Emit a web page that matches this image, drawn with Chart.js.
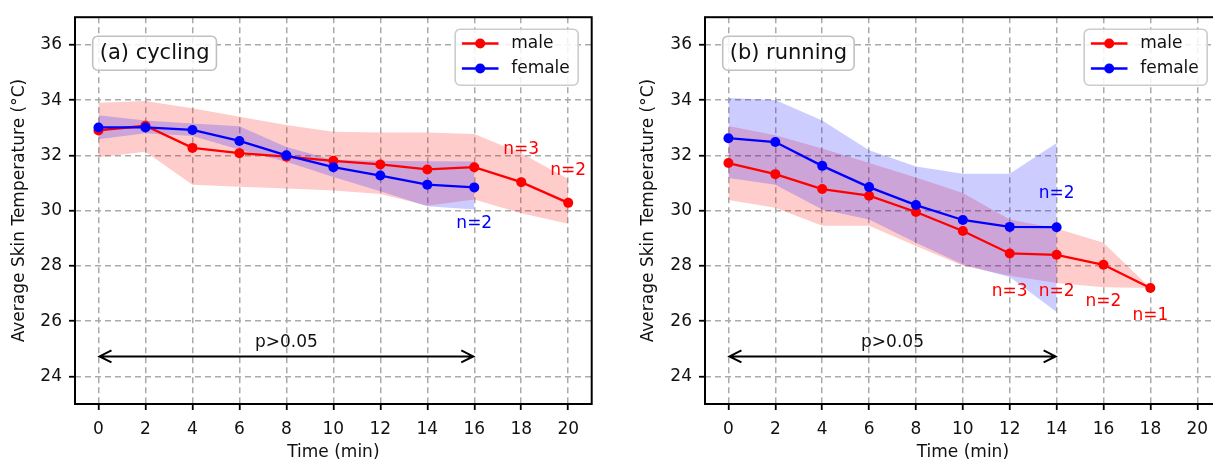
<!DOCTYPE html>
<html>
<head>
<meta charset="utf-8">
<script src="https://cdn.jsdelivr.net/npm/chart.js@4.4.1/dist/chart.umd.min.js"></script>
<style>
  html, body { margin: 0; padding: 0; background: #fff; overflow: hidden; width: 1213px; height: 461px; }
  .panel { position: absolute; top: 0; }
  #left { left: 0; }
  #right { left: 620px; }
</style>
</head>
<body>
<div class="panel" id="left"><canvas id="cycChart" width="610" height="461"></canvas></div>
<div class="panel" id="right"><canvas id="runChart" width="620" height="461"></canvas></div>
<script>
// Axis ticks
const xTicks = [0, 2, 4, 6, 8, 10, 12, 14, 16, 18, 20];
const yTicks = [24, 26, 28, 30, 32, 34, 36];
const legendLabels = ['male', 'female'];

// (a) cycling
const cycTimeMale = [0, 2, 4, 6, 8, 10, 12, 14, 16, 18, 20];
const cycMaleMean = [32.90, 33.07, 32.27, 32.08, 31.95, 31.80, 31.67, 31.49, 31.57, 31.03, 30.28];
const cycMaleUpper = [33.90, 33.97, 33.70, 33.40, 33.10, 32.85, 32.83, 32.83, 32.77, 32.08, 31.14];
const cycMaleLower = [31.93, 32.13, 30.94, 30.86, 30.80, 30.73, 30.60, 30.18, 30.40, 29.90, 29.52];
const cycTimeFemale = [0, 2, 4, 6, 8, 10, 12, 14, 16];
const cycFemaleMean = [33.01, 33.01, 32.92, 32.52, 32.00, 31.57, 31.27, 30.94, 30.84];
const cycFemaleUpper = [33.45, 33.26, 33.15, 33.05, 32.30, 31.83, 31.80, 31.79, 31.78];
const cycFemaleLower = [32.58, 32.80, 32.70, 32.20, 31.77, 31.22, 30.70, 30.16, 30.04];

// (b) running
const runTimeMale = [0, 2, 4, 6, 8, 10, 12, 14, 16, 18];
const runMaleMean = [31.72, 31.32, 30.78, 30.54, 29.95, 29.26, 28.45, 28.40, 28.04, 27.20];
const runMaleUpper = [33.06, 32.73, 32.25, 31.72, 31.20, 30.64, 29.68, 29.35, 28.84, 27.20];
const runMaleLower = [30.38, 30.10, 29.45, 29.45, 28.72, 28.00, 27.64, 27.38, 27.23, 27.20];
const runTimeFemale = [0, 2, 4, 6, 8, 10, 12, 14];
const runFemaleMean = [32.62, 32.48, 31.62, 30.85, 30.20, 29.66, 29.41, 29.40];
const runFemaleUpper = [34.08, 34.00, 33.26, 32.18, 31.60, 31.33, 31.33, 32.45];
const runFemaleLower = [31.18, 30.94, 30.04, 29.68, 28.84, 28.05, 27.60, 26.33];

const RED = '#ff0000';
const BLUE = '#0000ff';
const INK = '#111';
const FONT = '"DejaVu Sans", "Liberation Sans", sans-serif';
const FS = 17;

Chart.defaults.font.family = FONT;
Chart.defaults.font.size = FS;
Chart.defaults.color = INK;

const pts = (xs, ys) => xs.map((x, i) => ({ x, y: ys[i] }));

function buildDatasets(d) {
  const line = (label, xs, ys, color) => ({
    label, data: pts(xs, ys), borderColor: color, backgroundColor: color,
    borderWidth: 2.3, pointRadius: 5, pointHoverRadius: 5, pointBorderWidth: 0, fill: false, tension: 0
  });
  const edge = (label, xs, ys, fill, bg) => ({
    label, data: pts(xs, ys), borderWidth: 0, borderColor: 'rgba(0,0,0,0)',
    backgroundColor: bg, pointRadius: 0, fill, tension: 0
  });
  return [
    line('female', d.tF, d.fMean, BLUE),
    line('male', d.tM, d.mMean, RED),
    edge('female upper', d.tF, d.fUpper, '+1', 'rgba(0,0,255,0.2)'),
    edge('female lower', d.tF, d.fLower, false, 'rgba(0,0,0,0)'),
    edge('male upper', d.tM, d.mUpper, '+1', 'rgba(255,0,0,0.2)'),
    edge('male lower', d.tM, d.mLower, false, 'rgba(0,0,0,0)')
  ];
}

function roundRectPath(ctx, x, y, w, h, r) {
  ctx.beginPath();
  ctx.moveTo(x + r, y);
  ctx.lineTo(x + w - r, y);
  ctx.arcTo(x + w, y, x + w, y + r, r);
  ctx.lineTo(x + w, y + h - r);
  ctx.arcTo(x + w, y + h, x + w - r, y + h, r);
  ctx.lineTo(x + r, y + h);
  ctx.arcTo(x, y + h, x, y + h - r, r);
  ctx.lineTo(x, y + r);
  ctx.arcTo(x, y, x + r, y, r);
  ctx.closePath();
}

// Annotations, titles, legend and frame
function makeDecor(cfg) {
  return {
    id: 'decor',
    afterDatasetsDraw(chart) {
      const { ctx, chartArea: a, scales: { x, y } } = chart;
      ctx.save();
      ctx.font = FS + 'px ' + FONT;
      ctx.textAlign = 'center';
      ctx.textBaseline = 'middle';
      cfg.notes.forEach(n => {
        ctx.fillStyle = n.color;
        ctx.fillText(n.text, x.getPixelForValue(n.x), y.getPixelForValue(n.y));
      });

      // double arrow
      const ax0 = x.getPixelForValue(cfg.arrow[0]);
      const ax1 = x.getPixelForValue(cfg.arrow[1]);
      const ay = y.getPixelForValue(cfg.arrowY);
      ctx.strokeStyle = '#000';
      ctx.lineWidth = 2;
      ctx.beginPath();
      ctx.moveTo(ax0 + 1, ay); ctx.lineTo(ax1 - 1, ay);
      ctx.moveTo(ax0 + 13, ay - 6); ctx.lineTo(ax0 + 1, ay); ctx.lineTo(ax0 + 13, ay + 6);
      ctx.moveTo(ax1 - 13, ay - 6); ctx.lineTo(ax1 - 1, ay); ctx.lineTo(ax1 - 13, ay + 6);
      ctx.stroke();
      ctx.fillStyle = INK;
      ctx.fillText('p>0.05', x.getPixelForValue(cfg.pX), y.getPixelForValue(cfg.pY));

      // panel title box
      ctx.font = '21px ' + FONT;
      const tw = ctx.measureText(cfg.title).width;
      const bx = a.left + 17.7, by = a.top + 19;
      roundRectPath(ctx, bx, by, tw + 14, 34, 5);
      ctx.fillStyle = 'rgba(255,255,255,0.85)';
      ctx.fill();
      ctx.strokeStyle = '#c0c0c0';
      ctx.lineWidth = 1.6;
      ctx.stroke();
      ctx.fillStyle = INK;
      ctx.textAlign = 'left';
      ctx.fillText(cfg.title, bx + 7, by + 17);

      // legend
      const lw = 123, lh = 56;
      const lx = a.right - 13.5 - lw, ly = a.top + 12;
      roundRectPath(ctx, lx, ly, lw, lh, 5);
      ctx.fillStyle = 'rgba(255,255,255,0.85)';
      ctx.fill();
      ctx.strokeStyle = '#cccccc';
      ctx.lineWidth = 1.6;
      ctx.stroke();
      ctx.font = FS + 'px ' + FONT;
      [RED, BLUE].forEach((c, i) => {
        const ry = ly + 14.3 + i * 25;
        ctx.strokeStyle = c;
        ctx.lineWidth = 2.3;
        ctx.beginPath();
        ctx.moveTo(lx + 6.7, ry); ctx.lineTo(lx + 43.3, ry);
        ctx.stroke();
        ctx.fillStyle = c;
        ctx.beginPath();
        ctx.arc(lx + 25, ry, 5, 0, Math.PI * 2);
        ctx.fill();
        ctx.fillStyle = INK;
        ctx.fillText(legendLabels[i], lx + 56, ry);
      });

      // frame
      ctx.strokeStyle = '#000';
      ctx.lineWidth = 2;
      ctx.strokeRect(a.left, a.top, a.right - a.left, a.bottom - a.top);
      ctx.restore();
    }
  };
}

function buildScales(yWidth, yTitlePad) {
  const grid = { color: '#aaaaaa', lineWidth: 1.5, tickColor: '#000', tickLength: 6, tickWidth: 1.8, drawTicks: true };
  return {
    x: {
      type: 'linear', min: -1, max: 21,
      afterBuildTicks: s => { s.ticks = xTicks.map(v => ({ value: v })); },
      afterFit: s => { s.height = 57; },
      grid,
      border: { display: false, dash: [6, 4] },
      ticks: { autoSkip: false, maxRotation: 0, padding: 9, callback: v => String(v) },
      title: { display: true, text: 'Time (min)', font: { size: FS, lineHeight: 1 }, padding: { top: 0, bottom: 0 } }
    },
    y: {
      type: 'linear', min: 23, max: 37,
      afterBuildTicks: s => { s.ticks = yTicks.map(v => ({ value: v })); },
      afterFit: s => { s.width = yWidth; },
      grid,
      border: { display: false, dash: [6, 4] },
      ticks: { autoSkip: false, padding: 7, callback: v => String(v) },
      title: { display: true, text: 'Average Skin Temperature (°C)', font: { size: FS, lineHeight: 1 }, padding: { top: yTitlePad, bottom: 0 } }
    }
  };
}

function makeChart(id, data, scales, padRight, decor) {
  return new Chart(document.getElementById(id), {
    type: 'line',
    data: { datasets: buildDatasets(data) },
    options: {
      responsive: false,
      devicePixelRatio: 1,
      animation: false,
      events: [],
      layout: { padding: { left: 0, top: 12, right: padRight, bottom: 0 } },
      scales,
      plugins: { legend: { display: false }, tooltip: { enabled: false } }
    },
    plugins: [makeDecor(decor)]
  });
}

makeChart('cycChart',
  { tM: cycTimeMale, mMean: cycMaleMean, mUpper: cycMaleUpper, mLower: cycMaleLower,
    tF: cycTimeFemale, fMean: cycFemaleMean, fUpper: cycFemaleUpper, fLower: cycFemaleLower },
  buildScales(75, 11.5), 18.3,
  { title: '(a) cycling', arrow: [0, 16], arrowY: 24.72, pX: 8, pY: 25.22,
    notes: [
      { x: 18, y: 32.22, text: 'n=3', color: RED },
      { x: 20, y: 31.45, text: 'n=2', color: RED },
      { x: 16, y: 29.54, text: 'n=2', color: BLUE }
    ] });

makeChart('runChart',
  { tM: runTimeMale, mMean: runMaleMean, mUpper: runMaleUpper, mLower: runMaleLower,
    tF: runTimeFemale, fMean: runFemaleMean, fUpper: runFemaleUpper, fLower: runFemaleLower },
  buildScales(85, 20.5), 19.3,
  { title: '(b) running', arrow: [0, 14], arrowY: 24.72, pX: 7, pY: 25.22,
    notes: [
      { x: 14, y: 30.61, text: 'n=2', color: BLUE },
      { x: 12, y: 27.07, text: 'n=3', color: RED },
      { x: 14, y: 27.07, text: 'n=2', color: RED },
      { x: 16, y: 26.69, text: 'n=2', color: RED },
      { x: 18, y: 26.19, text: 'n=1', color: RED }
    ] });
</script>
</body>
</html>
